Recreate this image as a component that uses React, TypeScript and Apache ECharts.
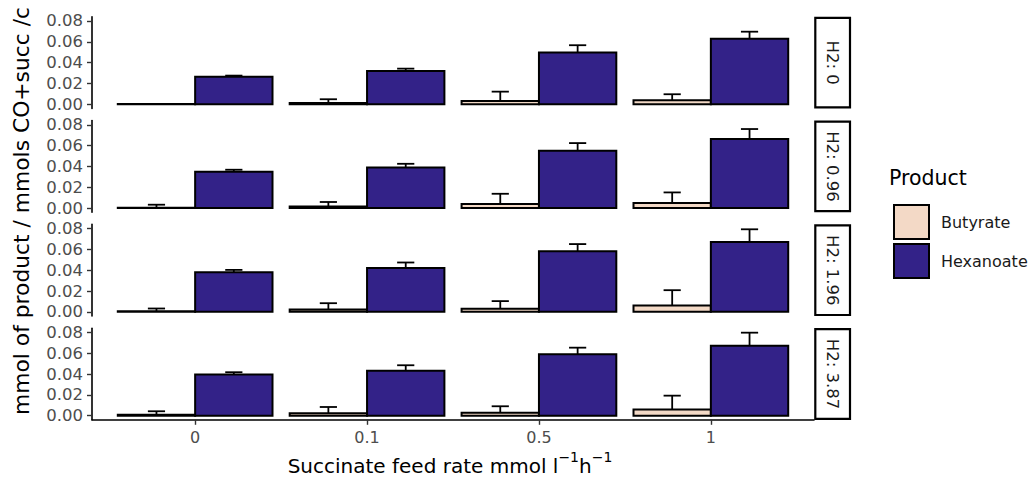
import React, { useEffect, useRef } from "react";
import * as echarts from "echarts";

const categories = ["0", "0.1", "0.5", "1"];
const panels = ["H2: 0", "H2: 0.96", "H2: 1.96", "H2: 3.87"];
const products = ["Butyrate", "Hexanoate"];

// values per panel (rows) and feed-rate category (columns)
const butyrate = [
  [0.0003, 0.0013, 0.0032, 0.0038],
  [0.0003, 0.0015, 0.0038, 0.0048],
  [0.0005, 0.0023, 0.0029, 0.0061],
  [0.0008, 0.0024, 0.0027, 0.0058],
];
const butyrateSd = [
  [0.0, 0.0035, 0.0089, 0.0058],
  [0.0029, 0.0043, 0.0099, 0.0102],
  [0.0027, 0.006, 0.0074, 0.0147],
  [0.0034, 0.0059, 0.0063, 0.0134],
];
const hexanoate = [
  [0.0265, 0.032, 0.0496, 0.063],
  [0.0349, 0.039, 0.055, 0.0663],
  [0.0381, 0.0422, 0.0581, 0.0672],
  [0.0394, 0.0432, 0.059, 0.0672],
];
const hexanoateSd = [
  [0.001, 0.0022, 0.0071, 0.0067],
  [0.0019, 0.0035, 0.0074, 0.0096],
  [0.0022, 0.0052, 0.007, 0.0121],
  [0.0023, 0.0052, 0.0063, 0.0125],
];
const yTicks = [0, 0.02, 0.04, 0.06, 0.08];

const FONT = "DejaVu Sans";
const COLORS = ["#F3D9C6", "#332288"];
const PANEL_TOPS = [16.8, 120.6, 224.4, 328.2];
const PANEL_H = 91.6;
const LEFT = 92;
const RIGHT_EDGE = 814;

export default function App() {
  const ref = useRef<HTMLDivElement>(null);
  useEffect(() => {
    if (!ref.current) return;
    const chart = echarts.init(ref.current, null, { renderer: "svg" });

    const grids = PANEL_TOPS.map((top) => ({
      left: LEFT,
      width: RIGHT_EDGE - LEFT,
      top,
      height: PANEL_H,
      containLabel: false,
    }));

    const xAxes = PANEL_TOPS.map((_, i) => {
      const last = i === PANEL_TOPS.length - 1;
      return {
        type: "value",
        gridIndex: i,
        min: -0.6,
        max: 3.6,
        splitLine: { show: false },
        axisLine: { show: last, onZero: false, lineStyle: { color: "#000", width: 1.6 } },
        axisTick: {
          show: last,
          length: 5,
          customValues: [0, 1, 2, 3],
          lineStyle: { color: "#333", width: 1.4 },
        },
        axisLabel: {
          show: last,
          customValues: [0, 1, 2, 3],
          formatter: (v: number) => categories[Math.round(v)] ?? "",
          color: "#4d4d4d",
          fontFamily: FONT,
          fontSize: 16,
          margin: 10,
        },
      };
    });

    const yAxes = PANEL_TOPS.map((_, i) => ({
      type: "value",
      gridIndex: i,
      min: -0.004,
      max: 0.084,
      splitLine: { show: false },
      axisLine: { show: true, onZero: false, lineStyle: { color: "#000", width: 1.6 } },
      axisTick: {
        show: true,
        length: 5,
        customValues: yTicks,
        lineStyle: { color: "#333", width: 1.4 },
      },
      axisLabel: {
        customValues: yTicks,
        formatter: (v: number) => v.toFixed(2),
        color: "#4d4d4d",
        fontFamily: FONT,
        fontSize: 16.5,
        margin: 9,
      },
    }));

    const series: any[] = [];
    PANEL_TOPS.forEach((_, p) => {
      const sets = [
        { name: products[0], vals: butyrate[p], sds: butyrateSd[p], off: -0.45, color: COLORS[0] },
        { name: products[1], vals: hexanoate[p], sds: hexanoateSd[p], off: 0, color: COLORS[1] },
      ];
      sets.forEach((s) => {
        series.push({
          type: "custom",
          name: "err-" + s.name,
          xAxisIndex: p,
          yAxisIndex: p,
          z: 1,
          silent: true,
          data: s.vals.map((v, i) => [i, v, s.sds[i]]),
          renderItem: (params: any, api: any) => {
            const x = api.value(0) + s.off + 0.225;
            const v = api.value(1);
            const sd = api.value(2);
            if (!sd) return { type: "group", children: [] };
            const a = api.coord([x, v]);
            const b = api.coord([x, v + sd]);
            const c1 = api.coord([x - 0.05, v + sd]);
            const c2 = api.coord([x + 0.05, v + sd]);
            const st = { stroke: "#000", lineWidth: 1.8 };
            return {
              type: "group",
              children: [
                { type: "line", shape: { x1: a[0], y1: a[1], x2: b[0], y2: b[1] }, style: st },
                { type: "line", shape: { x1: c1[0], y1: c1[1], x2: c2[0], y2: c2[1] }, style: st },
              ],
            };
          },
        });
        series.push({
          type: "custom",
          name: s.name,
          xAxisIndex: p,
          yAxisIndex: p,
          z: 2,
          itemStyle: { color: s.color, borderColor: "#000", borderWidth: 1.5 },
          data: s.vals.map((v, i) => [i, v]),
          renderItem: (params: any, api: any) => {
            const x = api.value(0);
            const v = api.value(1);
            const p1 = api.coord([x + s.off, v]);
            const p2 = api.coord([x + s.off + 0.45, 0]);
            return {
              type: "rect",
              shape: { x: p1[0], y: p1[1], width: p2[0] - p1[0], height: p2[1] - p1[1] },
              style: { fill: s.color, stroke: "#000", lineWidth: 2 },
            };
          },
        });
      });
    });

    const graphics: any[] = [];
    PANEL_TOPS.forEach((top, i) => {
      graphics.push({
        type: "rect",
        shape: { x: 815.3, y: top + 1, width: 34.7, height: PANEL_H - 2 },
        style: { fill: "#fff", stroke: "#000", lineWidth: 2.2 },
      });
      graphics.push({
        type: "text",
        x: 832.7,
        y: top + PANEL_H / 2,
        rotation: -Math.PI / 2,
        style: {
          text: panels[i],
          fontFamily: FONT,
          fontSize: 16.5,
          fill: "#1a1a1a",
          align: "center",
          verticalAlign: "middle",
        },
      });
    });
    graphics.push({
      type: "text",
      x: 21,
      y: 211,
      rotation: Math.PI / 2,
      style: {
        text: "mmol of product / mmols CO+succ /c",
        fontFamily: FONT,
        fontSize: 21.8,
        fill: "#000",
        align: "center",
        verticalAlign: "middle",
      },
    });
    graphics.push({
      type: "text",
      x: 450,
      y: 463,
      style: {
        text: "{m|Succinate feed rate mmol l}{s|−1}{m|h}{s|−1}",
        align: "center",
        verticalAlign: "middle",
        rich: {
          m: { fontFamily: FONT, fontSize: 20, fill: "#000", verticalAlign: "bottom", lineHeight: 26 },
          s: { fontFamily: FONT, fontSize: 14, fill: "#000", verticalAlign: "top", lineHeight: 26 },
        },
      },
    });

    chart.setOption({
      animation: false,
      backgroundColor: "#fff",
      title: {
        text: "Product",
        left: 884,
        top: 162,
        textStyle: { fontFamily: FONT, fontSize: 20.5, fontWeight: "normal", color: "#000" },
      },
      legend: {
        data: products,
        orient: "vertical",
        left: 888,
        top: 199,
        itemWidth: 35,
        itemHeight: 34,
        itemGap: 3,
        icon: "rect",
        itemStyle: { borderColor: "#000", borderWidth: 2 },
        textStyle: { fontFamily: FONT, fontSize: 16, color: "#1a1a1a", padding: [0, 0, 0, 7] },
        selectedMode: false,
      },
      grid: grids,
      xAxis: xAxes,
      yAxis: yAxes,
      series,
      graphic: graphics,
    });
    return () => chart.dispose();
  }, []);
  return (
    <div
      ref={ref}
      style={{ position: "fixed", left: 0, top: 0, width: 1030, height: 482, background: "#fff" }}
    />
  );
}
